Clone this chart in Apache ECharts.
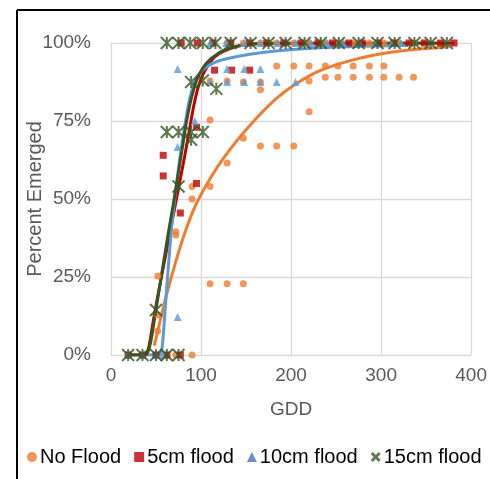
<!DOCTYPE html>
<html><head><meta charset="utf-8">
<script src="https://cdn.jsdelivr.net/npm/echarts@6/dist/echarts.min.js"></script>
<style>html,body{margin:0;padding:0;background:#fff}#c{width:490px;height:479px}</style>
</head><body><div id="c"></div>
<script>
// ---- data (GDD, percent emerged) ----
const seriesNames = ['No Flood', '5cm flood', '10cm flood', '15cm flood'];
const xTicks = [0, 100, 200, 300, 400];
const yTicks = [0, 25, 50, 75, 100];
const xTitle = 'GDD';
const yTitle = 'Percent Emerged';

const noFlood = [
  [72,0],[90,0],
  [52,25.3],[52,12.8],[52,7.7],
  [72,38.5],[72,39.5],
  [90,54],[90,50],
  [110,54],[110,75.3],[110,87.8],[110,22.8],
  [129,61.5],[129,87.8],[129,100],[129,22.8],
  [147,69.5],[147,87.5],[147,22.8],[147,100],
  [166,67],[166,85],[166,87.5],[166,100],
  [184,67],[184,92.6],[184,100],
  [203,67],[203,92.6],[203,100],
  [220,87.8],[220,78],[220,92.6],[220,100],
  [238,92.6],[238,89],[238,100],
  [252,92.6],[252,89],[252,100],
  [269,92.6],[269,89],[269,100],
  [287,92.6],[287,89],[287,100],
  [303,92.6],[303,89],[303,100],
  [320,89],[320,100],
  [336,89],[336,100]
];
const flood5 = [
  [19,0],[35,0],[50,0],[62,0],[77,0],
  [58,64],[58,57.4],
  [77,45.5],[78,100],
  [95,55],[95,73],[96,100],
  [115,91.3],[113,100],
  [134,91.3],[133,100],
  [154,91.3],[154,100],
  [173,100],[192,100],[211,100],[230,100],[246,100],[264,100],[279,100],
  [297,100],[314,100],[331,100],[348,100],[366,100],[381,100]
];
const flood10 = [
  [19,0],[35,0],[50,0],[57,0],
  [74,12.2],[74,66.7],[74,91.7],
  [93,75],
  [110,100],[110,87.5],
  [129,91.7],[129,87.5],[128,100],
  [148,91.7],[148,87.5],[148,100],
  [166,91.7],[166,87.5],[166,100],
  [184,87.5],[185,100],
  [205,87.5],[205,100],
  [222,100],[240,100],[258,100],[276,100],[294,100],[312,100],[322,100]
];
const flood15 = [
  [19,0],[35,0],[50,0],[62,0],[75,0],
  [50,14.4],
  [62,71.5],[62,100],
  [75,54],[75,71.5],[75,100],
  [89,71.5],[89,69],[89,87.5],[88,100],
  [102,71.5],[102,88],[102,100],
  [117,85.3],[116,100],
  [133,100],[155,100],[175,100],[194,100],[215,100],[233,100],[253,100],
  [275,100],[296,100],[315,100],[337,100],[355,100],[373,100]
];

// fitted trend curves
const trendNoFlood = [[48,3],[53,9],[61,18.6],[72,30],[83,40],[94,48],[110,56.5],[126,63.5],[151,72.5],[181,81.5],[206,87],[231,91],[268,94.5],[304,96.7],[340,98],[376,98.8]];
const trend5 = [[19,0],[38,0],[40,0.5],[43,4],[47,11],[52,19],[58,28],[64,37],[70,46],[76,55],[82,64],[87,72],[92,80],[97,86],[104,91],[115,95.5],[130,98],[150,99.5],[180,100],[381,100]];
const trend10 = [[19,0],[50,0],[55,0.5],[57,3],[59,10],[62,22],[65,33],[68,43],[72,53],[76,62],[80,70],[84,77],[88,83],[93,87.5],[99,90.5],[108,92.7],[120,94.3],[140,95.7],[170,97],[206,98],[260,98.8],[330,99.3]];
const trend15 = [[19,0],[38,0],[41,1],[44,4],[48,11],[53,20],[58,29],[63,38],[69,48],[74,57],[79,66],[84,75],[89,82],[95,88],[102,92],[111,95],[126,97.8],[141,99],[170,99.8],[373,100]];

const colors = ['#ED7D31', '#C00000', '#5B9BD5', '#375623'];
const FONT = 'Liberation Sans';
const TXT = '#595959';
const starPath = 'path://M0,0L10,10M10,0L0,10M5,0L5,10';
const boldX = 'path://M2,0L5,3L8,0L10,2L7,5L10,8L8,10L5,7L2,10L0,8L3,5L0,2Z';

const chart = echarts.init(document.getElementById('c'), null, {renderer: 'canvas'});
function trend(data, color) {
  return {type: 'line', data: data, showSymbol: false, smooth: 0.3,
    lineStyle: {color: color, width: 3}, z: 2, silent: true, legendHoverLink: false};
}
chart.setOption({
  animation: false,
  grid: {left: 111, right: 11, top: 43, bottom: 124},
  xAxis: {type: 'value', min: xTicks[0], max: xTicks[xTicks.length-1], interval: 100,
    name: xTitle, nameLocation: 'middle', nameGap: 45,
    nameTextStyle: {fontFamily: FONT, fontSize: 19, color: TXT},
    axisLine: {show: false}, axisTick: {show: false},
    axisLabel: {fontFamily: FONT, fontSize: 19, color: TXT, margin: 11},
    splitLine: {show: true, lineStyle: {color: '#d9d9d9', width: 1.3}}},
  yAxis: {type: 'value', min: yTicks[0], max: yTicks[yTicks.length-1], interval: 25,
    axisLine: {show: false}, axisTick: {show: false},
    axisLabel: {fontFamily: FONT, fontSize: 19, color: TXT, margin: 20, formatter: '{value}%'},
    splitLine: {show: true, lineStyle: {color: '#d9d9d9', width: 1.3}}},
  legend: {
    bottom: 7, left: 22, itemWidth: 10, itemHeight: 10, itemGap: 13,
    textStyle: {fontFamily: FONT, fontSize: 20, color: '#000', padding: [0,0,0,-2]},
    data: [
      {name: seriesNames[0], icon: 'circle', itemStyle: {color: colors[0]}},
      {name: seriesNames[1], icon: 'rect', itemStyle: {color: colors[1]}},
      {name: seriesNames[2], icon: 'triangle', itemStyle: {color: '#4472C4'}},
      {name: seriesNames[3], icon: boldX, itemStyle: {color: colors[3], borderWidth: 0}}
    ]
  },
  graphic: [
    {type: 'line', shape: {x1: 17, y1: 10, x2: 490, y2: 10}, style: {stroke: '#000', lineWidth: 2}},
    {type: 'line', shape: {x1: 17, y1: 10, x2: 17, y2: 479}, style: {stroke: '#000', lineWidth: 2}},
    {type: 'text', x: 35, y: 199, rotation: Math.PI / 2,
      style: {text: yTitle, fontFamily: FONT, fontSize: 20, fill: TXT, align: 'center', verticalAlign: 'middle'}}
  ],
  series: [
    {name: seriesNames[0], type: 'scatter', data: noFlood, symbol: 'circle', symbolSize: 7, itemStyle: {color: colors[0]}, z: 3},
    {name: seriesNames[1], type: 'scatter', data: flood5, symbol: 'rect', symbolSize: 7, itemStyle: {color: colors[1]}, z: 3},
    {name: seriesNames[2], type: 'scatter', data: flood10, symbol: 'triangle', symbolSize: 8, itemStyle: {color: colors[2]}, z: 3},
    {name: seriesNames[3], type: 'scatter', data: flood15, symbol: starPath, symbolSize: 12, itemStyle: {color: 'rgba(0,0,0,0)', borderColor: colors[3], borderWidth: 2}, z: 4},
    trend(trendNoFlood, colors[0]),
    trend(trend5, colors[1]),
    trend(trend10, colors[2]),
    trend(trend15, colors[3])
  ]
});
</script></body></html>
